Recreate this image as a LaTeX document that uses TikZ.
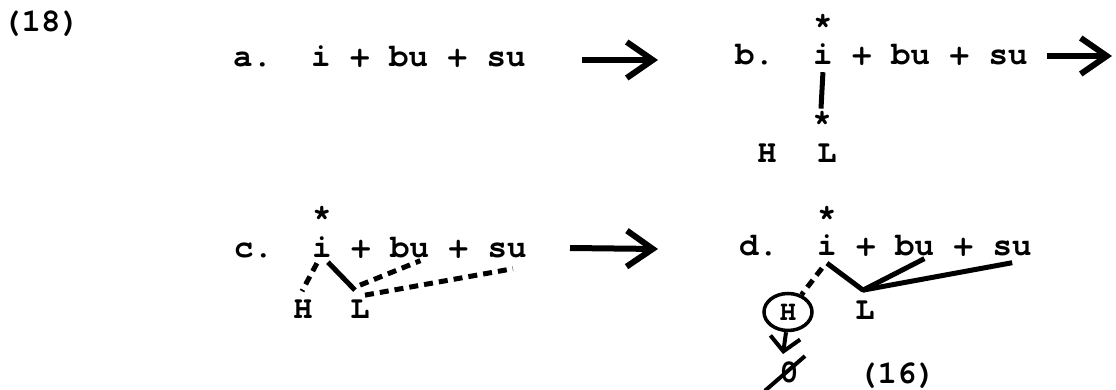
\documentclass[tikz,border=0pt]{standalone}
\usepackage{fontspec}
\newfontfamily\tw{texgyrecursor-bold.otf}
\usetikzlibrary{arrows.meta,shapes.geometric}
\tikzset{
  big/.style={font=\tw\fontsize{32.5}{36}\selectfont, inner sep=0pt, anchor=base west},
  bigc/.style={font=\tw\fontsize{32.5}{36}\selectfont, inner sep=0pt, anchor=base},
  small/.style={font=\tw\fontsize{32}{34}\selectfont, inner sep=0pt, anchor=base},
  bigarrow/.style={line width=6pt, -{Straight Barb[length=26pt,width=36pt]}},
  link/.style={line width=5pt},
  dlink/.style={line width=5pt, dash pattern=on 9pt off 6pt},
}
\begin{document}
\begin{tikzpicture}[x=1pt,y=-1pt]
\useasboundingbox (0,0) rectangle (1116,390);
% label
\node[big] (n18) at (2,32) {(18)};
% row a
\node[big] (aa) at (233,67) {a.};
\node[big] (ai) at (311,67) {i};
\node[big] (ap1) at (350,67) {+};
\node[big] (abu) at (389,67) {bu};
\node[big] (ap2) at (447.5,67) {+};
\node[big] (asu) at (486.5,67) {su};
% row b
\node[big] (ba) at (735,65) {b.};
\node[big] (bi) at (813,65) {i};
\node[big] (bp1) at (852,65) {+};
\node[big] (bbu) at (891,65) {bu};
\node[big] (bp2) at (949.5,65) {+};
\node[big] (bsu) at (988.5,65) {su};
\node[bigc] (bst) at (822.75,35) {*};
\node[bigc] (bst2) at (822,132) {*};
\node[small] (bH) at (767,163) {H};
\node[small] (bL) at (827,163) {L};
% row c
\node[big] (ca) at (234,257) {c.};
\node[big] (ci) at (312,257) {i};
\node[big] (cp1) at (351,257) {+};
\node[big] (cbu) at (390,257) {bu};
\node[big] (cp2) at (448.5,257) {+};
\node[big] (csu) at (487.5,257) {su};
\node[bigc] (cst) at (321.75,226) {*};
\node[small] (cH) at (303,318) {H};
\node[small] (cL) at (360,318) {L};
% row d
\node[big] (da) at (739,255) {d.};
\node[big] (di) at (817,255) {i};
\node[big] (dp1) at (856,255) {+};
\node[big] (dbu) at (895,255) {bu};
\node[big] (dp2) at (953.5,255) {+};
\node[big] (dsu) at (992.5,255) {su};
\node[bigc] (dst) at (826.75,226) {*};
\node[small] (dL) at (865,319) {L};
\node[draw, ellipse, line width=3.5pt, minimum width=48pt, minimum height=37pt, inner sep=0pt,
      font=\tw\fontsize{28}{30}\selectfont] (dH) at (788,312) {H};
\node[bigc] (dz) at (789,382) {0};
\node[big] (n16) at (858,383) {(16)};
% arrows between rows
\coordinate (ab1) at (582,60); \coordinate (ab2) at (658,60);
\coordinate (bc1) at (1047,56); \coordinate (bc2) at (1112,56);
\coordinate (cd1) at (570,248); \coordinate (cd2) at (658,249);
\draw[bigarrow] (ab1) -- (ab2);
\draw[bigarrow] (bc1) -- (bc2);
\draw[bigarrow] (cd1) -- (cd2);
% b links
\draw[link] ([shift={(0,7)}]bi.south) -- ([shift={(-1,-3)}]bst2.north);
% c links
\draw[dlink] ([shift={(-5,6)}]ci.south) -- ([shift={(-1,-8)}]cH.north);
\draw[link] ([shift={(6,5)}]ci.south) -- ([shift={(-5,-9)}]cL.north);
\draw[dlink] ([shift={(0,-14)}]cL.north) -- ([shift={(-9,3)}]cbu.south east);
\draw[dlink] ([shift={(5,-4)}]cL.north) -- ([shift={(-14,11)}]csu.south east);
% d links
\coordinate (dv) at ([shift={(-2,-10)}]dL.north);
\draw[dlink] ([shift={(-5,13)}]di.south) -- (dH.52);
\draw[link, line join=round] ([shift={(0,8)}]di.south) -- (dv) -- ([shift={(-10,3)}]dbu.south east);
\draw[link] (dv) -- ([shift={(0,7)}]dsu.south);
\draw[line width=4pt, -{Straight Barb[length=14pt,width=30pt]}] ([shift={(-2,0)}]dH.south) -- ([shift={(-6,-7)}]dz.north);
\draw[line width=4pt] ([shift={(-24,8)}]dz.south) -- ([shift={(16,-5)}]dz.north);
\end{tikzpicture}
\end{document}
